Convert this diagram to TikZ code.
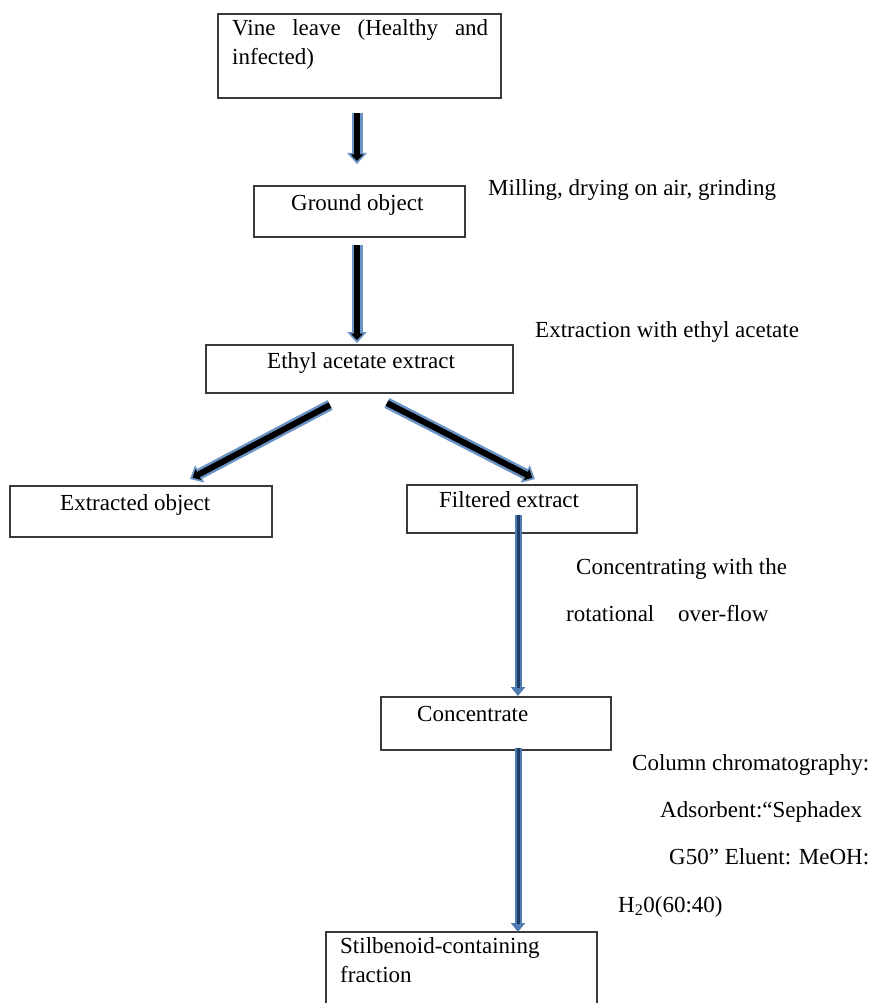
\documentclass[tikz,border=0pt]{standalone}
\usepackage{fontspec}
\setmainfont{Liberation Serif}
\usetikzlibrary{arrows.meta,calc}
\definecolor{edgeblue}{HTML}{4F7CB3}
\definecolor{glowblue}{HTML}{6A93C6}
\definecolor{darkblue}{HTML}{1E3D66}
\definecolor{boxgray}{HTML}{3A3A3A}
\newcommand\fatarr[2]{%
  \draw[line width=11pt, glowblue, -{Triangle[width=19pt,length=11pt]}] #1 -- #2;
  \draw[line width=6pt, black, shorten >=3pt, -{Triangle[width=12pt,length=6.5pt]}] #1 -- #2;}
\newcommand\slimarr[2]{%
  \draw[line width=7pt, edgeblue, -{Triangle[width=14pt,length=9pt]}] #1 -- #2;
  \draw[line width=3pt, darkblue, shorten >=8pt] #1 -- #2;}
\begin{document}
\begin{tikzpicture}[x=1pt,y=-1pt,
  box/.style={draw=boxgray, line width=1.1pt, inner sep=0pt, outer sep=0pt},
  lbl/.style={anchor=base west, inner sep=0pt, font=\fontsize{23}{28}\selectfont}]
\useasboundingbox (0,0) rectangle (874,1003);
\fill[white] (0,0) rectangle (874,1003);

% boxes
\node[box, minimum width=283pt, minimum height=84pt] (vine) at (359.5,56) {};
\node[box, minimum width=211pt, minimum height=51pt] (ground) at (359.5,211.5) {};
\node[box, minimum width=307pt, minimum height=48pt] (ethyl) at (359.5,369) {};
\node[box, minimum width=262pt, minimum height=51pt] (extracted) at (141,511.5) {};
\node[box, minimum width=230pt, minimum height=48pt] (filtered) at (522,509) {};
\node[box, minimum width=230pt, minimum height=53pt] (concentrate) at (496,723.5) {};
\node[box, minimum width=271pt, minimum height=78pt] (stilb) at (461.5,971) {};

% box texts
\node[lbl] (t1a) at (232,36) {\makebox[256pt][s]{Vine leave (Healthy and}};
\node[lbl] (t1b) at (232,65) {infected)};
\node[lbl] (t2) at (291,210) {Ground object};
\node[lbl] (t3) at (267,368) {Ethyl acetate extract};
\node[lbl] (t4) at (60,510) {Extracted object};
\node[lbl] (t5) at (439,507) {Filtered extract};
\node[lbl] (t6) at (417,721) {Concentrate};
\node[lbl] (t7a) at (340,953) {Stilbenoid-containing};
\node[lbl] (t7b) at (340,982) {fraction};

% side labels
\node[lbl] (s1) at (488,195) {Milling, drying on air, grinding};
\node[lbl] (s2) at (535,337) {Extraction with ethyl acetate};
\node[lbl] (s3a) at (576,574) {Concentrating with the};
\node[lbl] (s3b) at (566,621) {rotational};
\node[lbl] (s3c) at (678,621) {over-flow};
\node[lbl] (s4a) at (632,770) {Column chromatography:};
\node[lbl] (s4b) at (660,817) {Adsorbent:“Sephadex};
\node[lbl] (s4c) at (669,864) {G50” Eluent: MeOH:};
\node[lbl] (s4d) at (618,912) {H\textsubscript{2}0(60:40)};

% arrows
\fatarr{($(vine.south)+(-2.5,15)$)}{($(ground.north)+(-2.5,-22)$)}
\fatarr{($(ground.south)+(-2.5,8)$)}{($(ethyl.north)+(-2.5,-2)$)}
\fatarr{($(ethyl.south)+(-29.5,12)$)}{($(extracted.north)+(49,-7)$)}
\fatarr{($(ethyl.south)+(27.5,10)$)}{($(filtered.north)+(13,-6)$)}
\slimarr{($(filtered.south)+(-4,-18)$)}{($(concentrate.north)+(22,-1)$)}
\slimarr{($(concentrate.south)+(22,-2)$)}{($(stilb.north)+(56.5,0)$)}
\end{tikzpicture}
\end{document}
